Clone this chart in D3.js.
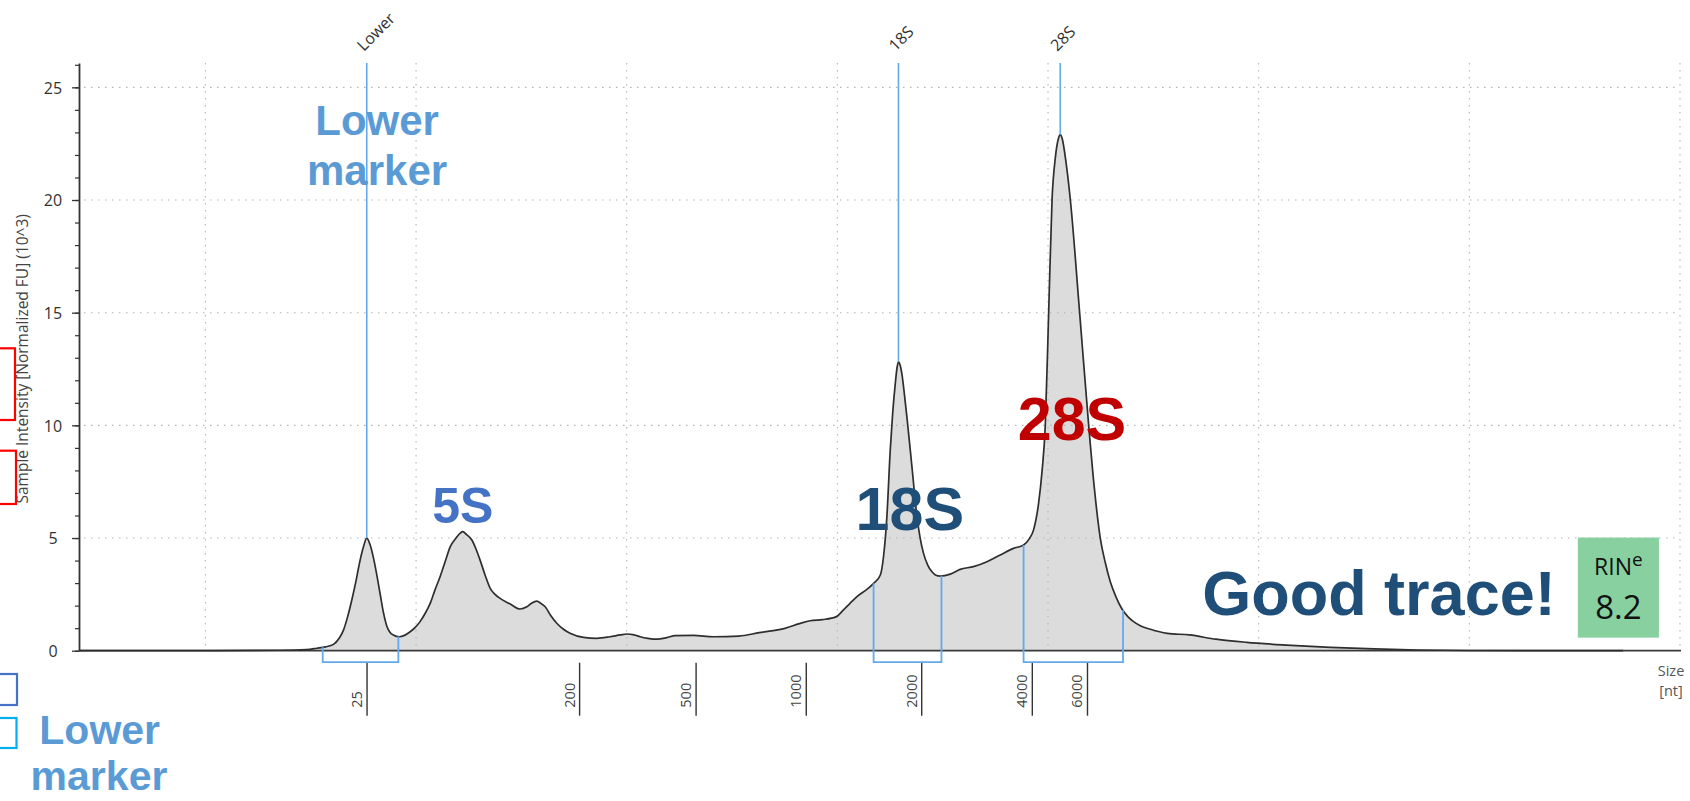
<!DOCTYPE html>
<html>
<head>
<meta charset="utf-8">
<script src="https://cdn.jsdelivr.net/npm/d3@7"></script>
<style>
  body { margin: 0; background: #fff; }
  svg { display: block; }
</style>
</head>
<body>
<svg id="chart" width="1690" height="801"></svg>
<script>
// Ladder bands: size (nt) and where each band sits along the run
const ladderSizes = [25, 200, 500, 1000, 2000, 4000, 6000];
const ladderRun   = [17.65, 27.74, 33.27, 38.50, 43.98, 49.23, 51.85];

// Electropherogram trace: run distance vs sample intensity (10^3 normalized FU)
const traceRun = [
  4.0, 9.0, 13.5, 14.8, 15.29, 15.7, 16.08, 16.35, 16.55, 16.75, 16.95, 17.15, 17.34, 17.5,
  17.66, 17.82, 17.97, 18.13, 18.29, 18.45, 18.61, 18.76, 18.92, 19.21, 19.45, 19.72, 19.95,
  20.19, 20.43, 20.67, 20.90, 21.14, 21.38, 21.62, 21.9, 22.10, 22.22, 22.4, 22.65, 22.85,
  23.04, 23.28, 23.52, 23.75, 23.99, 24.47, 24.94, 25.26, 25.5, 25.73, 25.93, 26.13, 26.4,
  26.68, 27.0, 27.31, 27.95, 28.58, 29.21, 29.7, 30.01, 30.35, 30.64, 31.0, 31.45, 31.9,
  32.30, 33.17, 34.12, 35.33, 36.29, 37.51, 38.2, 38.71, 39.3, 39.93, 40.29, 40.6, 40.93,
  41.40, 41.72, 42.04, 42.19, 42.35, 42.51, 42.63, 42.75, 42.84, 42.90, 42.97, 43.06, 43.18,
  43.30, 43.54, 43.78, 43.93, 44.09, 44.29, 44.49, 44.68, 44.88, 45.36, 45.83, 46.46, 47.10,
  47.73, 48.36, 48.84, 49.10, 49.31, 49.55, 49.72, 49.87, 50.03, 50.19, 50.35, 50.50, 50.58,
  50.68, 50.85, 51.06, 51.50, 51.93, 52.20, 52.48, 52.72, 52.96, 53.22, 53.51, 53.8, 54.06,
  54.4, 54.86, 55.66, 56.71, 57.97, 59.43, 61.31, 63.40, 65.49, 67.58, 70.0, 77.3
];
const traceFU = [
  0, 0, 0.02, 0.05, 0.11, 0.17, 0.28, 0.55, 0.9, 1.5, 2.25, 3.1, 4.0, 4.6,
  5.0, 4.7, 4.15, 3.4, 2.55, 1.7, 1.1, 0.82, 0.70, 0.62, 0.68, 0.84, 1.02,
  1.29, 1.65, 2.10, 2.7, 3.28, 3.95, 4.61, 5.0, 5.22, 5.28, 5.15, 4.91, 4.5,
  4.02, 3.35, 2.77, 2.5, 2.32, 2.07, 1.85, 1.95, 2.12, 2.20, 2.1, 1.95, 1.55,
  1.22, 0.95, 0.77, 0.59, 0.55, 0.62, 0.70, 0.74, 0.70, 0.62, 0.55, 0.51, 0.58,
  0.67, 0.68, 0.62, 0.65, 0.80, 0.99, 1.2, 1.33, 1.38, 1.50, 1.81, 2.1, 2.40,
  2.72, 2.99, 3.36, 4.17, 5.94, 8.90, 10.6, 11.86, 12.6, 12.82, 12.7, 12.31, 11.4,
  10.38, 8.16, 5.94, 5.0, 4.32, 3.8, 3.50, 3.35, 3.31, 3.40, 3.61, 3.73, 3.95,
  4.25, 4.54, 4.69, 4.95, 5.35, 6.53, 8.0, 10.0, 15.0, 20.0, 21.9, 22.75, 22.9,
  22.7, 21.7, 20.0, 15.0, 10.0, 7.2, 5.0, 3.9, 3.05, 2.4, 1.85, 1.5, 1.29,
  1.1, 0.95, 0.77, 0.70, 0.51, 0.37, 0.25, 0.15, 0.08, 0.03, 0.01, 0
];

// Called peaks
const peakNames = ["Lower", "18S", "28S"];
const peakRun   = [17.66, 42.90, 50.58];

// Integration regions, start and end in run distance
const regionStart = [15.57, 41.72, 48.84];
const regionEnd   = [19.16, 44.94, 53.56];

// Axis ticks and grid
const yMajorTicks = [0, 5, 10, 15, 20, 25];
const yMinorTicks = d3.range(0, 27);
const gridRun = [10, 20, 30, 40, 50, 60, 70, 80];

const rinValue = 8.2;

// ---------------------------------------------------------------
const svg = d3.select("#chart");
const x = d3.scaleLinear().domain([4, 80]).range([79, 1680]);
const y = d3.scaleLinear().domain([0, 26.08]).range([650.7, 63]);

const uiFont = "'Open Sans', 'DejaVu Sans', sans-serif";
const boldFont = "'Liberation Sans', Arial, sans-serif";
const markerBlue = "#64aaeb";

// linear read-out of the trace at any run distance
function fuAt(r) {
  const i = d3.bisectLeft(traceRun, r);
  if (i <= 0) return traceFU[0];
  if (i >= traceRun.length) return traceFU[traceFU.length - 1];
  const t = (r - traceRun[i - 1]) / (traceRun[i] - traceRun[i - 1]);
  return traceFU[i - 1] + t * (traceFU[i] - traceFU[i - 1]);
}

const idx = d3.range(traceRun.length);

// filled trace
svg.append("path")
  .attr("d", d3.area()
    .x(i => x(traceRun[i]))
    .y0(y(0))
    .y1(i => y(traceFU[i]))
    .curve(d3.curveMonotoneX)(idx))
  .attr("fill", "#dcdcdc");

// dotted grid
const grid = svg.append("g")
  .attr("stroke", "#b4b4b4")
  .attr("stroke-width", 1.1)
  .attr("stroke-dasharray", "1.5,5.5");
grid.selectAll("line.h")
  .data(yMajorTicks.filter(d => d > 0))
  .join("line")
  .attr("class", "h")
  .attr("x1", x(4) + 5).attr("x2", x(80))
  .attr("y1", d => y(d)).attr("y2", d => y(d));
grid.selectAll("line.v")
  .data(gridRun)
  .join("line")
  .attr("class", "v")
  .attr("x1", d => x(d)).attr("x2", d => x(d))
  .attr("y1", y(26.08)).attr("y2", y(0));

// y axis: major ticks with labels, minor ticks every unit
const gy = svg.append("g")
  .attr("transform", `translate(${x(4)},0)`)
  .call(d3.axisLeft(y).tickValues(yMajorTicks).tickSize(7).tickSizeOuter(0));
gy.select(".domain").attr("stroke", "#333").attr("stroke-width", 1.8);
gy.selectAll(".tick line").attr("stroke", "#333").attr("stroke-width", 1.3);
gy.selectAll(".tick text")
  .attr("x", -26)
  .attr("dy", "0.36em")
  .attr("text-anchor", "middle")
  .attr("fill", "#333")
  .style("font-family", uiFont)
  .style("font-size", "16px");

const gyMinor = svg.append("g")
  .attr("transform", `translate(${x(4)},0)`)
  .call(d3.axisLeft(y).tickValues(yMinorTicks).tickSize(4).tickFormat(""));
gyMinor.select(".domain").remove();
gyMinor.selectAll(".tick line").attr("stroke", "#333").attr("stroke-width", 1.2);

svg.append("text")
  .attr("transform", `translate(28,${(y(0) + y(26.08)) / 2 + 2}) rotate(-90)`)
  .attr("text-anchor", "middle")
  .attr("fill", "#444")
  .style("font-family", uiFont)
  .style("font-size", "15.5px")
  .text("Sample Intensity [Normalized FU] (10^3)");

// x axis: ladder sizes, ticks hanging below the baseline
const gx = svg.append("g")
  .attr("transform", `translate(0,${y(0) + 12})`)
  .call(d3.axisBottom(x)
    .tickValues(ladderRun)
    .tickFormat((d, i) => ladderSizes[i])
    .tickSize(53)
    .tickSizeOuter(0));
gx.select(".domain").remove();
gx.selectAll(".tick line").attr("stroke", "#333").attr("stroke-width", 1.4);
gx.selectAll(".tick text")
  .attr("x", 0).attr("y", 0).attr("dy", 0)
  .attr("transform", "translate(-5,45) rotate(-90)")
  .attr("text-anchor", "start")
  .attr("fill", "#444")
  .style("font-family", uiFont)
  .style("font-size", "14.5px");

svg.append("line")
  .attr("x1", x(4)).attr("x2", x(80) + 1)
  .attr("y1", y(0)).attr("y2", y(0))
  .attr("stroke", "#3a3a3a")
  .attr("stroke-width", 1.8);

const sizeLabel = svg.append("text")
  .attr("text-anchor", "middle")
  .attr("fill", "#555")
  .style("font-family", uiFont)
  .style("font-size", "14.5px");
sizeLabel.append("tspan").attr("x", 1671).attr("y", 676).text("Size");
sizeLabel.append("tspan").attr("x", 1671).attr("y", 696).text("[nt]");

// trace outline
svg.append("path")
  .attr("d", d3.line()
    .x(i => x(traceRun[i]))
    .y(i => y(traceFU[i]))
    .curve(d3.curveMonotoneX)(idx))
  .attr("fill", "none")
  .attr("stroke", "#2e2e2e")
  .attr("stroke-width", 1.7)
  .attr("stroke-linejoin", "round");

// peak marker lines and their slanted names
svg.append("g").selectAll("line")
  .data(peakRun)
  .join("line")
  .attr("x1", d => x(d)).attr("x2", d => x(d))
  .attr("y1", y(26.08)).attr("y2", d => y(fuAt(d)))
  .attr("stroke", markerBlue)
  .attr("stroke-width", 1.6);

svg.append("g").selectAll("text")
  .data(peakNames)
  .join("text")
  .attr("transform", (d, i) => `translate(${x(peakRun[i]) - 3},52) rotate(-45)`)
  .attr("fill", "#333")
  .style("font-family", uiFont)
  .style("font-size", "16px")
  .text(d => d);

// integration region brackets
const yb = y(0) + 11.5;
svg.append("g").selectAll("path")
  .data(regionStart)
  .join("path")
  .attr("d", (s, i) => {
    const e = regionEnd[i];
    return `M${x(s)},${y(fuAt(s))}V${yb}H${x(e)}V${y(fuAt(e))}`;
  })
  .attr("fill", "none")
  .attr("stroke", markerBlue)
  .attr("stroke-width", 1.8);

// callouts
function bold(txt, cx, cy, size, color, anchor = "middle") {
  svg.append("text")
    .attr("x", cx).attr("y", cy)
    .attr("text-anchor", anchor)
    .attr("fill", color)
    .style("font-family", boldFont)
    .style("font-weight", "bold")
    .style("font-size", size + "px")
    .text(txt);
}
bold("Lower", x(18.15), y(22.88), 42, "#5b9bd5");
bold("marker", x(18.15), y(20.66), 42, "#5b9bd5");
bold("5S", x(22.22), y(5.68), 50, "#4472c4");
bold("18S", x(43.44), y(5.36), 61, "#1f4e79");
bold("28S", x(51.14), y(9.35), 61, "#c00000");
bold("Good trace!", x(74.1), y(1.58), 63, "#1f4e79", "end");

// RIN badge
const rx0 = x(75.15), rx1 = x(79.0), ry0 = y(5.02), ry1 = y(0.58);
svg.append("rect")
  .attr("x", rx0).attr("y", ry0)
  .attr("width", rx1 - rx0).attr("height", ry1 - ry0)
  .attr("fill", "#88d0a0");
const rin = svg.append("text")
  .attr("x", (rx0 + rx1) / 2).attr("y", ry0 + 37)
  .attr("text-anchor", "middle")
  .attr("fill", "#111")
  .style("font-family", uiFont)
  .style("font-size", "23px");
rin.append("tspan").text("RIN");
rin.append("tspan").attr("dy", -9).style("font-size", "19px").text("e");
svg.append("text")
  .attr("x", (rx0 + rx1) / 2).attr("y", ry0 + 81)
  .attr("text-anchor", "middle")
  .attr("fill", "#111")
  .style("font-family", uiFont)
  .style("font-size", "33px")
  .text(rinValue.toFixed(1));

// legend keys along the left edge
const keys = svg.append("g").attr("fill", "none").attr("stroke-width", 2.2);
keys.append("rect").attr("x", -40).attr("y", 348.3).attr("width", 55).attr("height", 71.7).attr("stroke", "#ff0000");
keys.append("rect").attr("x", -40).attr("y", 450.7).attr("width", 56).attr("height", 53.3).attr("stroke", "#ff0000");
keys.append("rect").attr("x", -14).attr("y", 674).attr("width", 31).attr("height", 31).attr("stroke", "#4472c4");
keys.append("rect").attr("x", -14).attr("y", 718).attr("width", 30.5).attr("height", 30).attr("stroke", "#00b0f0");
bold("Lower", 99.7, 744, 41, "#5b9bd5");
bold("marker", 99, 790, 41, "#5b9bd5");
</script>
</body>
</html>
